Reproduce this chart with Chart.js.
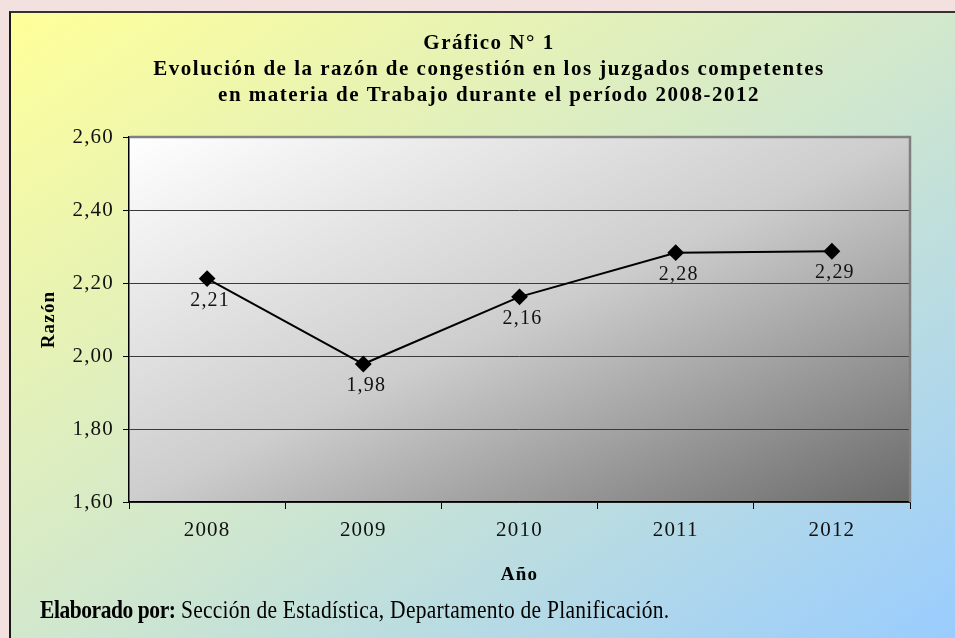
<!DOCTYPE html>
<html>
<head>
<meta charset="utf-8">
<script src="https://cdn.jsdelivr.net/npm/chart.js@4.4.1/dist/chart.umd.min.js"></script>
<style>
html,body{margin:0;padding:0;width:955px;height:638px;overflow:hidden;background:#f3e1e0;}
#box{position:absolute;left:9px;top:11px;width:946px;height:627px;border-left:2px solid #1a1a1a;border-top:2px solid #333;
 background:linear-gradient(to bottom right,#ffff99 0%,#d2e8cc 50%,#99ccff 100%);}
#c{position:absolute;left:0;top:0;}
#foot{position:absolute;left:40px;top:596px;font-family:'Liberation Serif','Times New Roman',serif;font-size:25px;color:#000;white-space:nowrap;transform:scaleX(0.86);transform-origin:0 0;}
#foot b{letter-spacing:-0.5px;}
#foot span{letter-spacing:0.3px;}
</style>
</head>
<body>
<div id="box"></div>
<canvas id="c" width="955" height="638"></canvas>
<div id="foot"><b>Elaborado por:</b> <span>Sección de Estadística, Departamento de Planificación.</span></div>
<script>
const years = ['2008', '2009', '2010', '2011', '2012'];
const ratios = [2.212, 1.978, 2.162, 2.283, 2.287];
const titleLines = [
  'Gráfico N° 1',
  'Evolución de la razón de congestión en los juzgados competentes',
  'en materia de Trabajo durante el período 2008-2012'
];
const yTitle = 'Razón';
const xTitle = 'Año';

const SERIF = "'Liberation Serif', 'Times New Roman', serif";
const SPACING = '1.2px';
const fmt = v => Number(v).toFixed(2).replace('.', ',');

const spacing = {
  id: 'spacing',
  beforeInit(c) { c.ctx.letterSpacing = SPACING; },
  beforeUpdate(c) { c.ctx.letterSpacing = SPACING; },
  beforeDraw(c) { c.ctx.letterSpacing = SPACING; }
};

const plotBg = {
  id: 'plotBg',
  beforeDraw(c) {
    const {ctx, chartArea: {left, top, width, height}} = c;
    ctx.save();
    ctx.translate(left, top);
    ctx.scale(width, height);
    const g = ctx.createLinearGradient(0, 0, 1, 1);
    g.addColorStop(0, '#ffffff');
    g.addColorStop(0.5, '#cdcdcd');
    g.addColorStop(1, '#6a6a6a');
    ctx.fillStyle = g;
    ctx.fillRect(0, 0, 1, 1);
    ctx.restore();
  },
  beforeDatasetsDraw(c) {
    const {ctx, chartArea: {left, top, right, bottom}} = c;
    ctx.save();
    ctx.strokeStyle = '#808080';
    ctx.lineWidth = 2.5;
    ctx.beginPath();
    ctx.moveTo(left + 1, top);
    ctx.lineTo(right, top);
    ctx.lineTo(right, bottom);
    ctx.stroke();
    ctx.restore();
  }
};

const valueLabels = {
  id: 'valueLabels',
  afterDatasetsDraw(c) {
    const ctx = c.ctx;
    const meta = c.getDatasetMeta(0);
    ctx.save();
    ctx.font = '20px ' + SERIF;
    ctx.fillStyle = '#111';
    ctx.textAlign = 'center';
    ctx.textBaseline = 'middle';
    meta.data.forEach((pt, i) => ctx.fillText(fmt(ratios[i]), pt.x + 3, pt.y + 22));
    ctx.restore();
  }
};

const titleDraw = {
  id: 'titleDraw',
  afterDraw(c) {
    const ctx = c.ctx;
    ctx.save();
    ctx.letterSpacing = '1.5px';
    ctx.font = 'bold 21px ' + SERIF;
    ctx.fillStyle = '#000';
    ctx.textAlign = 'center';
    ctx.textBaseline = 'alphabetic';
    titleLines.forEach((t, i) => ctx.fillText(t, 489, 49 + i * 26));
    ctx.restore();
  }
};

new Chart(document.getElementById('c'), {
  type: 'line',
  data: {
    labels: years,
    datasets: [{
      data: ratios,
      borderColor: '#000',
      borderWidth: 2,
      pointStyle: 'rectRot',
      pointRadius: 7,
      pointBackgroundColor: '#000',
      pointBorderColor: '#000',
      tension: 0,
      fill: false
    }]
  },
  options: {
    responsive: false,
    animation: false,
    devicePixelRatio: 1,
    layout: {padding: {left: 10, right: 45, top: 137, bottom: 50}},
    plugins: {legend: {display: false}, tooltip: {enabled: false}, title: {display: false}},
    scales: {
      x: {
        offset: true,
        grid: {offset: true, drawOnChartArea: false, drawTicks: true, tickLength: 7, color: '#000', lineWidth: 1},
        border: {display: true, color: '#000', width: 1.5},
        ticks: {color: '#111', font: {family: SERIF, size: 21}, padding: 9, maxRotation: 0},
        title: {display: true, text: xTitle, color: '#000', font: {family: SERIF, size: 19, weight: 'bold'}, padding: {top: 0, bottom: 2}},
        afterFit(s) { s.height = 86; }
      },
      y: {
        min: 1.6,
        max: 2.6,
        ticks: {stepSize: 0.2, callback: v => fmt(v), color: '#111', font: {family: SERIF, size: 21}, padding: 9},
        grid: {color: '#3a3a3a', lineWidth: 1, tickLength: 6, tickColor: '#000'},
        border: {color: '#000', width: 1.5},
        title: {display: true, text: yTitle, color: '#000', font: {family: SERIF, size: 19, weight: 'bold'}, padding: {top: 28, bottom: 0}},
        afterFit(s) { s.width = 119; }
      }
    }
  },
  plugins: [spacing, plotBg, valueLabels, titleDraw]
});
</script>
</body>
</html>
